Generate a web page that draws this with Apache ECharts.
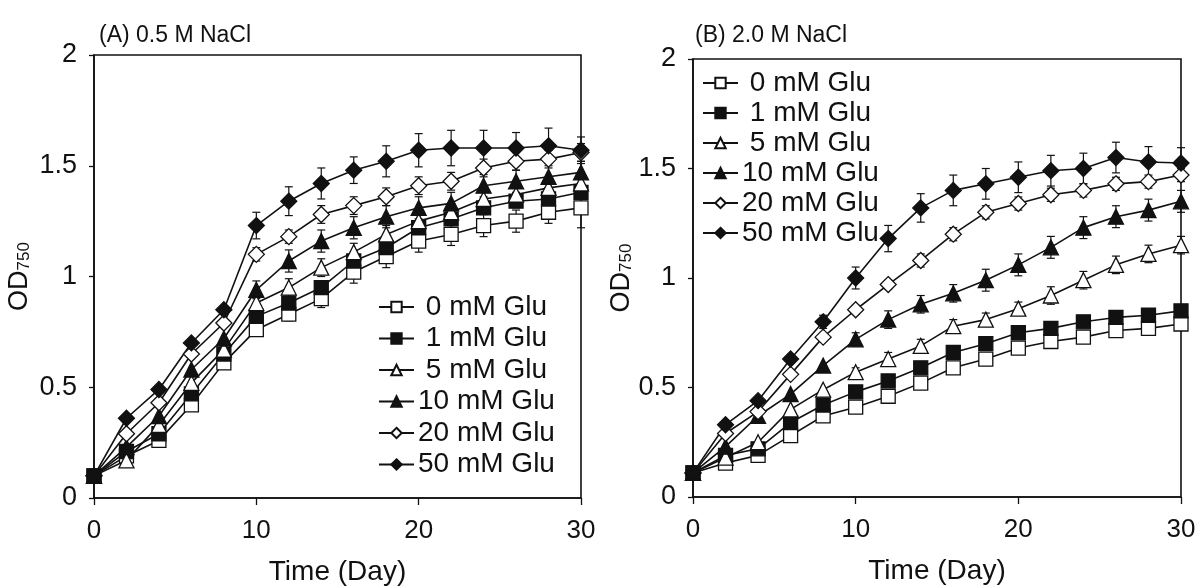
<!DOCTYPE html>
<html>
<head>
<meta charset="utf-8">
<script src="https://cdn.jsdelivr.net/npm/echarts@6/dist/echarts.min.js"></script>
<style>
html,body{margin:0;padding:0;background:#fff;}
#chart{width:1195px;height:587px;}
</style>
</head>
<body>
<div id="chart"></div>
<script>
// ---- data ----
const days = [0,2,4,6,8,10,12,14,16,18,20,22,24,26,28,30];
const seriesNames = ['0 mM Glu','1 mM Glu','5 mM Glu','10 mM Glu','20 mM Glu','50 mM Glu'];
const yTicks = ['0','0.5','1','1.5','2'];

// Panel A: 0.5 M NaCl
const A_0  = [0.10,0.19,0.26,0.42,0.61,0.76,0.83,0.90,1.02,1.09,1.16,1.19,1.23,1.25,1.29,1.31];
const A_1  = [0.10,0.21,0.29,0.47,0.65,0.82,0.88,0.95,1.07,1.13,1.22,1.26,1.31,1.34,1.35,1.38];
const A_5  = [0.10,0.17,0.33,0.52,0.67,0.88,0.95,1.04,1.11,1.19,1.25,1.29,1.35,1.37,1.40,1.42];
const A_10 = [0.10,0.23,0.37,0.58,0.72,0.94,1.07,1.16,1.22,1.27,1.31,1.33,1.41,1.43,1.45,1.47];
const A_20 = [0.10,0.29,0.43,0.65,0.79,1.10,1.18,1.28,1.32,1.36,1.41,1.43,1.49,1.52,1.53,1.56];
const A_50 = [0.10,0.36,0.49,0.70,0.85,1.23,1.34,1.42,1.48,1.52,1.57,1.58,1.58,1.58,1.59,1.57];
const A_err0  = [0,0,0,0,0,0.02,0.03,0.04,0.05,0.05,0.05,0.05,0.05,0.05,0.05,0.09];
const A_err1  = [0,0,0,0,0,0.02,0.03,0.03,0.03,0.03,0.03,0.03,0.03,0.03,0.03,0.03];
const A_err5  = [0,0,0,0,0,0.03,0.04,0.04,0.04,0.04,0.04,0.04,0.04,0.04,0.04,0.04];
const A_err10 = [0,0,0,0,0,0.04,0.05,0.05,0.05,0.05,0.05,0.05,0.05,0.05,0.05,0.05];
const A_err20 = [0,0,0,0,0,0.03,0.03,0.04,0.04,0.04,0.04,0.04,0.04,0.04,0.04,0.04];
const A_err50 = [0,0,0,0,0,0.06,0.065,0.07,0.06,0.07,0.075,0.08,0.08,0.07,0.08,0.06];

// Panel B: 2.0 M NaCl
const B_0  = [0.11,0.155,0.19,0.28,0.37,0.41,0.46,0.52,0.59,0.63,0.68,0.71,0.73,0.76,0.77,0.79];
const B_1  = [0.11,0.19,0.22,0.34,0.42,0.48,0.53,0.59,0.66,0.70,0.75,0.77,0.80,0.82,0.83,0.85];
const B_5  = [0.11,0.18,0.25,0.40,0.49,0.57,0.63,0.69,0.78,0.81,0.86,0.92,0.99,1.06,1.11,1.15];
const B_10 = [0.11,0.23,0.37,0.47,0.60,0.72,0.81,0.88,0.93,0.99,1.06,1.14,1.23,1.28,1.31,1.35];
const B_20 = [0.11,0.29,0.39,0.56,0.73,0.855,0.97,1.08,1.20,1.30,1.34,1.38,1.40,1.43,1.44,1.47];
const B_50 = [0.11,0.33,0.44,0.63,0.80,1.00,1.18,1.32,1.40,1.43,1.46,1.49,1.50,1.55,1.53,1.525];
const B_err0  = [0,0,0,0,0,0.015,0.015,0.02,0.02,0.02,0.02,0.02,0.02,0.02,0.02,0.02];
const B_err1  = [0,0,0,0,0,0.015,0.015,0.02,0.02,0.02,0.02,0.02,0.02,0.02,0.02,0.02];
const B_err5  = [0,0,0,0,0,0.02,0.03,0.03,0.03,0.03,0.03,0.04,0.04,0.04,0.04,0.04];
const B_err10 = [0,0,0,0,0,0.03,0.04,0.04,0.04,0.05,0.05,0.05,0.05,0.05,0.05,0.05];
const B_err20 = [0,0,0,0,0,0.02,0.02,0.03,0.03,0.03,0.03,0.03,0.03,0.03,0.03,0.03];
const B_err50 = [0,0,0,0,0.03,0.05,0.06,0.065,0.07,0.07,0.07,0.07,0.07,0.07,0.07,0.07];

// ---- styles ----
const FONT = 'Liberation Sans, Arial, sans-serif';
const INK = '#111';
const symbols = [
  {symbol:'rect', fill:'#fff', size:14},
  {symbol:'rect', fill:INK, size:14},
  {symbol:'triangle', fill:'#fff', size:15},
  {symbol:'triangle', fill:INK, size:15},
  {symbol:'diamond', fill:'#fff', size:16},
  {symbol:'diamond', fill:INK, size:16}
];

const panelA = [A_0,A_1,A_5,A_10,A_20,A_50];
const panelB = [B_0,B_1,B_5,B_10,B_20,B_50];
const errA = [A_err0,A_err1,A_err5,A_err10,A_err20,A_err50];
const errB = [B_err0,B_err1,B_err5,B_err10,B_err20,B_err50];

function errorSeries(vals, errs, idx){
  const data = [];
  days.forEach((d,i)=>{ if(errs[i]>0) data.push([d, vals[i], errs[i]]); });
  return {
    type:'custom', xAxisIndex:idx, yAxisIndex:idx, z:1, silent:true,
    data:data,
    renderItem:function(params, api){
      const x = api.value(0), y = api.value(1), e = api.value(2);
      const t = api.coord([x, y+e]);
      const b = api.coord([x, y-e]);
      const w = 4;
      const st = {stroke:INK, lineWidth:1.2};
      return {type:'group', children:[
        {type:'line', shape:{x1:t[0],y1:t[1],x2:b[0],y2:b[1]}, style:st},
        {type:'line', shape:{x1:t[0]-w,y1:t[1],x2:t[0]+w,y2:t[1]}, style:st},
        {type:'line', shape:{x1:b[0]-w,y1:b[1],x2:b[0]+w,y2:b[1]}, style:st}
      ]};
    }
  };
}

function lineSeries(vals, k, idx){
  const s = symbols[k];
  return {
    name: seriesNames[k], type:'line', xAxisIndex:idx, yAxisIndex:idx, z:3,
    data: days.map((d,i)=>[d, vals[i]]),
    symbol: s.symbol, symbolSize: s.size, showSymbol:true, clip:false,
    lineStyle:{color:INK, width:1.6},
    itemStyle:{color:s.fill, borderColor:INK, borderWidth:1.3},
    emphasis:{disabled:true},
    animation:false
  };
}

const series = [];
panelA.forEach((v,k)=>series.push(errorSeries(v, errA[k], 0)));
panelB.forEach((v,k)=>series.push(errorSeries(v, errB[k], 1)));
panelA.forEach((v,k)=>series.push(lineSeries(v, k, 0)));
panelB.forEach((v,k)=>series.push(lineSeries(v, k, 1)));

function xAxis(idx){
  return {
    type:'value', gridIndex:idx, min:0, max:30, interval:10,
    name:'Time (Day)', nameLocation:'middle', nameGap:60,
    nameTextStyle:{fontFamily:FONT, fontSize:28, color:INK},
    axisLine:{show:true, lineStyle:{color:INK, width:1.6}},
    axisTick:{show:true, inside:false, length:7, lineStyle:{color:INK, width:1.3}},
    axisLabel:{fontFamily:FONT, fontSize:26, color:INK, margin:20},
    splitLine:{show:false}
  };
}
function yAxis(idx, gap){
  return {
    type:'value', gridIndex:idx, min:0, max:2, interval:0.5,
    name:'OD{sub|750}', nameLocation:'middle', nameGap:gap, nameRotate:90,
    nameTextStyle:{fontFamily:FONT, fontSize:27, color:INK,
      rich:{sub:{fontFamily:FONT, fontSize:17, color:INK, padding:[10,0,0,0]}}},
    axisLine:{show:true, lineStyle:{color:INK, width:1.6}},
    axisTick:{show:true, inside:false, length:5, lineStyle:{color:INK, width:1.3}},
    axisLabel:{fontFamily:FONT, fontSize:27, color:INK, margin:17,
      formatter:function(v){ return yTicks[Math.round(v/0.5)]; }},
    splitLine:{show:false}
  };
}

function legend(left, top, gap){
  return {
    show:true, orient:'vertical', left:left, top:top, itemGap:gap,
    itemWidth:35, itemHeight:13, padding:0,
    data: seriesNames.map(n=>n),
    selectedMode:false,
    textStyle:{fontFamily:FONT, fontSize:28, color:INK, lineHeight:28, padding:[0,0,0,-1]},
    formatter:function(n){ return n.length < 9 ? ' ' + n : n; }
  };
}

const chart = echarts.init(document.getElementById('chart'), null, {renderer:'canvas'});
chart.setOption({
  backgroundColor:'#fff',
  animation:false,
  title:[
    {text:'(A) 0.5 M NaCl', left:94, top:19, textStyle:{fontFamily:FONT, fontSize:23, fontWeight:'normal', color:INK}},
    {text:'(B) 2.0 M NaCl', left:690, top:19, textStyle:{fontFamily:FONT, fontSize:23, fontWeight:'normal', color:INK}}
  ],
  grid:[
    {left:94, top:55, width:487, height:443, show:true, borderColor:INK, borderWidth:1.6, backgroundColor:'transparent', outerBoundsMode:'none', containLabel:false},
    {left:693, top:59, width:488, height:438, show:true, borderColor:INK, borderWidth:1.6, backgroundColor:'transparent', outerBoundsMode:'none', containLabel:false}
  ],
  xAxis:[xAxis(0), xAxis(1)],
  yAxis:[yAxis(0, 61), yAxis(1, 55)],
  legend:[legend(378, 293, 3.5), legend(702, 69, 2)],
  series:series
});
</script>
</body>
</html>
